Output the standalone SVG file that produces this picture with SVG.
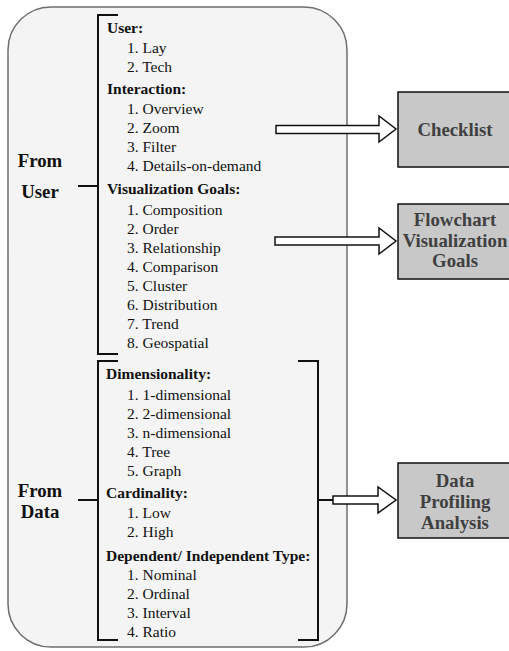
<svg xmlns="http://www.w3.org/2000/svg" width="509" height="651" viewBox="0 0 509 651">
<style>
text{font-family:'Liberation Serif','Times New Roman',Times,'DejaVu Serif',serif}
.h{font-weight:bold;font-size:15.5px;fill:#111}
.i{font-size:15.5px;fill:#111}
.big{font-weight:bold;font-size:18.8px;fill:#111;text-anchor:middle}
.bt{font-weight:bold;font-size:18.8px;fill:#404040;text-anchor:middle}
.br{fill:none;stroke:#111;stroke-width:2}
.box{fill:#c8c8c8;stroke:#111;stroke-width:1.5}
.arr{fill:#fff;stroke:#111;stroke-width:1.5;stroke-linejoin:miter}
</style>
<rect id="container" x="8" y="7" width="339" height="640" rx="43" ry="43" fill="#f4f4f4" stroke="#6e6e6e" stroke-width="1.5"/>
<g id="from-user">
<text class="big" x="40" y="167">From</text>
<text class="big" x="40" y="198">User</text>
</g>
<g id="from-data">
<text class="big" x="40" y="497">From</text>
<text class="big" x="40" y="518">Data</text>
</g>
<g id="user-list">
<text class="h" x="107" y="33">User:</text>
<text class="i" x="127" y="53">1. Lay</text>
<text class="i" x="127" y="72">2. Tech</text>
<text class="h" x="107" y="94">Interaction:</text>
<text class="i" x="127" y="114">1. Overview</text>
<text class="i" x="127" y="133">2. Zoom</text>
<text class="i" x="127" y="152">3. Filter</text>
<text class="i" x="127" y="171">4. Details-on-demand</text>
<text class="h" x="107" y="194">Visualization Goals:</text>
<text class="i" x="127" y="215">1. Composition</text>
<text class="i" x="127" y="234">2. Order</text>
<text class="i" x="127" y="253">3. Relationship</text>
<text class="i" x="127" y="272">4. Comparison</text>
<text class="i" x="127" y="291">5. Cluster</text>
<text class="i" x="127" y="310">6. Distribution</text>
<text class="i" x="127" y="329">7. Trend</text>
<text class="i" x="127" y="348">8. Geospatial</text>
</g>
<g id="data-list">
<text class="h" x="106" y="379">Dimensionality:</text>
<text class="i" x="127" y="400">1. 1-dimensional</text>
<text class="i" x="127" y="419">2. 2-dimensional</text>
<text class="i" x="127" y="438">3. n-dimensional</text>
<text class="i" x="127" y="457">4. Tree</text>
<text class="i" x="127" y="476">5. Graph</text>
<text class="h" x="106" y="498">Cardinality:</text>
<text class="i" x="127" y="518">1. Low</text>
<text class="i" x="127" y="537">2. High</text>
<text class="h" x="106" y="561">Dependent/ Independent Type:</text>
<text class="i" x="127" y="580">1. Nominal</text>
<text class="i" x="127" y="599">2. Ordinal</text>
<text class="i" x="127" y="618">3. Interval</text>
<text class="i" x="127" y="637">4. Ratio</text>
</g>
<g id="checklist">
<rect class="box" x="398" y="92" width="114" height="75"/>
<text class="bt" x="455" y="136">Checklist</text>
</g>
<g id="flowchart">
<rect class="box" x="398" y="204" width="114" height="75"/>
<text class="bt" x="455" y="226">Flowchart</text>
<text class="bt" x="455" y="247">Visualization</text>
<text class="bt" x="455" y="267">Goals</text>
</g>
<g id="profiling">
<rect class="box" x="398" y="463" width="114" height="75"/>
<text class="bt" x="455" y="487">Data</text>
<text class="bt" x="455" y="508">Profiling</text>
<text class="bt" x="455" y="529">Analysis</text>
</g>
<g id="connectors">
<path class="br" d="M118,15 H98 V354 H118"/>
<path class="br" d="M78,186 H98"/>
<path class="br" d="M118,361 H98 V640 H118"/>
<path class="br" d="M298,361 H318 V640 H298"/>
<path class="br" d="M78,500 H98"/>
<path class="br" d="M318,500 H333"/>
<path class="arr" d="M276,125.5 H379 V116 L396,129 L379,142 V133.5 H276 Z"/>
<path class="arr" d="M275,237 H379 V228 L396,241 L379,254 V245 H275 Z"/>
<path class="arr" d="M333,496 H378 V487 L396,500 L378,513 V504 H333 Z"/>
</g>
</svg>
